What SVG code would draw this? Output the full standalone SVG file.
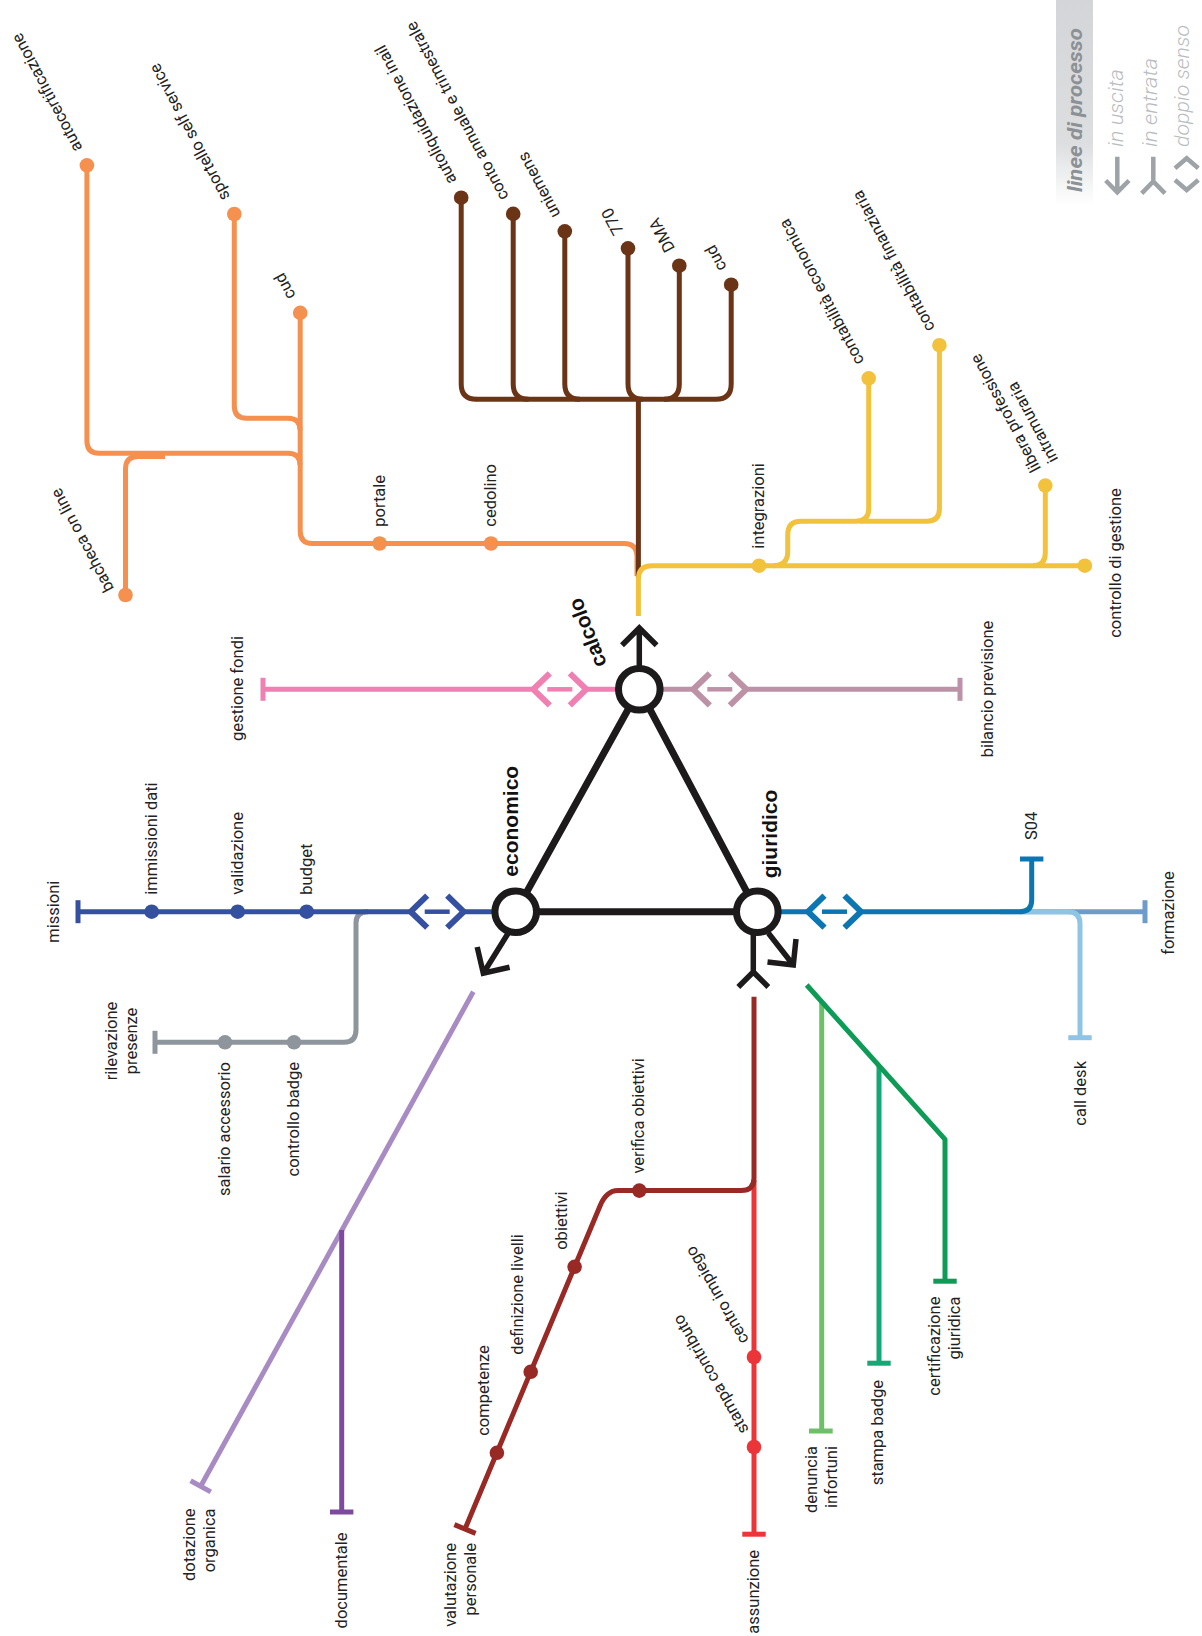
<svg xmlns="http://www.w3.org/2000/svg" width="1202" height="1636" viewBox="0 0 1202 1636">
<style>
.ln{fill:none;stroke-width:5;stroke-linejoin:round;stroke-linecap:butt}
.t{fill:none;stroke-width:5}
.or{stroke:#f5904f}.br{stroke:#6b3416}.ye{stroke:#f2c23c}.pk{stroke:#f07fb2}.mv{stroke:#bd91a6}
.bl{stroke:#3550a0}.gy{stroke:#8f959c}.te{stroke:#0b76b1}.sb{stroke:#6d9cca}.lb{stroke:#8ec5e4}
.lv{stroke:#a98bc4}.pu{stroke:#7d4a9e}.dr{stroke:#982924}.rd{stroke:#ec3539}
.lg{stroke:#6ec068}.tg{stroke:#14a877}.dg{stroke:#0d9b56}
.dor{fill:#f5904f}.dbr{fill:#6b3416}.dye{fill:#f2c23c}.dbl{fill:#3550a0}.dgy{fill:#8f959c}.ddr{fill:#982924}.drd{fill:#ec3539}
.blk{fill:none;stroke:#1c1a1b;stroke-width:7}
.arr{fill:none;stroke:#1c1a1b;stroke-width:5.5;stroke-linejoin:miter}
.node{fill:#fff;stroke:#1c1a1b;stroke-width:7}
.lbl{font-family:Roboto,"Liberation Sans",sans-serif;font-size:16.5px;fill:#222}
.bold{font-family:"Liberation Sans",Arial,sans-serif;font-weight:bold;font-size:21px;fill:#111}
.lgt{font-family:Roboto,"Liberation Sans",sans-serif;font-style:italic;font-size:20px}
.ico{fill:none;stroke:#9ea3a8;stroke-width:4.5}
</style>
<defs>
<linearGradient id="lgbg" x1="0" y1="0" x2="0" y2="1">
<stop offset="0" stop-color="#d3d5d8"/>
<stop offset="0.7" stop-color="#dcdee0"/>
<stop offset="1" stop-color="#ffffff"/>
</linearGradient>
<g id="dbl">
<path d="M16.5,-16 L0,0 L16.5,16 M36.5,-16 L53,0 L36.5,16" stroke-width="6" fill="none" stroke-linejoin="miter"/>
<path d="M14,0 H39" stroke-width="4.5" fill="none"/>
</g>
</defs>
<rect width="1202" height="1636" fill="#fff"/>

<g id="legend">
<rect x="1056" y="0" width="37" height="205" fill="url(#lgbg)"/>
<text class="lgt" transform="translate(1081.7,192) rotate(-90)" font-weight="bold" fill="#8c9196" textLength="164" lengthAdjust="spacingAndGlyphs">linee di processo</text>
<text class="lgt" transform="translate(1123,147) rotate(-90)" font-weight="300" fill="#b8bcc0" textLength="78" lengthAdjust="spacingAndGlyphs">in uscita</text>
<text class="lgt" transform="translate(1157,147) rotate(-90)" font-weight="300" fill="#b8bcc0" textLength="89" lengthAdjust="spacingAndGlyphs">in entrata</text>
<text class="lgt" transform="translate(1189,147) rotate(-90)" font-weight="300" fill="#b8bcc0" textLength="122" lengthAdjust="spacingAndGlyphs">doppio senso</text>
<path class="ico" d="M1117.3,156.7 V192 M1105.7,180.5 L1117.3,192.3 L1129,180.5"/>
<path class="ico" d="M1153.3,156.7 V181.5 M1141.7,193.3 L1153.3,181.5 L1165,193.3"/>
<path class="ico" d="M1175,168.3 L1186.7,158.3 L1198.3,168.3 M1175,180 L1186.7,190 L1198.3,180"/>
</g>

<g id="connectors">
<!-- orange -->
<path class="ln or" d="M86.9,165.3 V441 Q86.9,453.3 99,453.3 H288 Q300,453.3 300,465"/>
<path class="ln or" d="M234.3,214 V406 Q234.3,418.3 246.5,418.3 H288 Q300,418.3 300,430"/>
<path class="ln or" d="M125.5,595 V469 Q125.5,456.5 138,456.5 H165"/>
<path class="ln or" d="M300.2,312.8 V531 Q300.2,543.5 312.5,543.5 H624 Q637,543.5 637,557 V576"/>
<!-- brown -->
<path class="ln br" d="M476,399.3 H716"/>
<path class="ln br" d="M461.2,197.7 V384 Q461.2,399.3 476.5,399.3"/>
<path class="ln br" d="M513.2,213.9 V384 Q513.2,399.3 528.5,399.3"/>
<path class="ln br" d="M564.8,231.3 V384 Q564.8,399.3 580,399.3"/>
<path class="ln br" d="M628,248.3 V384 Q628,399.3 643,399.3"/>
<path class="ln br" d="M679.3,265.7 V384 Q679.3,399.3 664,399.3"/>
<path class="ln br" d="M731.2,284.7 V384 Q731.2,399.3 716,399.3"/>
<path class="ln br" d="M638.4,399.3 V578"/>
<!-- yellow -->
<path class="ln ye" d="M638.4,616 V579 Q638.4,565.7 652,565.7 H1084.8"/>
<path class="ln ye" d="M773,565.7 Q787.7,565.7 787.7,552 V535 Q787.7,521.2 801,521.2 H856 Q868.7,521.2 868.7,509 V378.4"/>
<path class="ln ye" d="M939.4,345.2 V509 Q939.4,521.2 927,521.2 H860"/>
<path class="ln ye" d="M1045.3,485.6 V553 Q1045.3,565.7 1033,565.7"/>
<!-- pink / mauve -->
<path class="ln pk" d="M263,689.3 H533.3 M586,689.3 H620"/>
<path class="t pk" d="M263,677.8 V700.8"/>
<use href="#dbl" class="pk" transform="translate(533.3,689.3)"/>
<path class="ln mv" d="M658,689.3 H693.3 M746.3,689.3 H960"/>
<path class="t mv" d="M960,677.8 V700.8"/>
<use href="#dbl" class="mv" transform="translate(693.3,689.3)"/>
<!-- gray -->
<path class="ln gy" d="M368,911.7 Q356,911.7 356,923 V1030 Q356,1042.3 344,1042.3 H155"/>
<path class="t gy" d="M155,1030.8 V1053.8"/>
<!-- blue -->
<path class="ln bl" d="M78,911.7 H410.7 M463.7,911.7 H498"/>
<path class="t bl" d="M78,900.2 V923.2"/>
<use href="#dbl" class="bl" transform="translate(410.7,911.7)"/>
<!-- giuridico right -->
<path class="ln sb" d="M1020,911.7 H1145"/>
<path class="t sb" d="M1145,900.2 V923.2"/>
<path class="ln lb" d="M1000,911.7 H1068 Q1080,911.7 1080,924 V1037.7"/>
<path class="t lb" d="M1068.3,1037.7 H1091.7"/>
<path class="ln te" d="M776,911.7 H808 M861,911.7 H1020 Q1031.7,911.7 1031.7,900 V859"/>
<path class="t te" d="M1020,859 H1043.4"/>
<use href="#dbl" class="te" transform="translate(808,911.7)"/>
<!-- lavender / purple -->
<path class="ln lv" d="M473.3,991.7 L200.7,1486.3"/>
<path class="t lv" d="M190.6,1480.8 L210.8,1491.9"/>
<path class="ln pu" d="M341.7,1230 V1512"/>
<path class="t pu" d="M330,1512 H353.4"/>
<!-- reds -->
<path class="ln rd" d="M754,1180 V1534.2"/>
<path class="t rd" d="M742.3,1534.2 H765.7"/>
<path class="ln dr" d="M754,996.7 V1178 Q754,1190.6 741,1190.6 H618 Q606.4,1190.6 600,1206 L465,1529"/>
<path class="t dr" d="M454.4,1524.6 L475.6,1533.4"/>
<!-- greens -->
<path class="ln lg" d="M821.7,1001.7 V1431"/>
<path class="t lg" d="M809,1431 H832.7"/>
<path class="ln tg" d="M879,1065.7 V1363.2"/>
<path class="t tg" d="M867.3,1363.2 H890.7"/>
<path class="ln dg" d="M806.7,985 L945,1139.3 V1281.2"/>
<path class="t dg" d="M933.3,1281.2 H956.7"/>
</g>

<g id="stations">
<circle class="dor" cx="86.9" cy="165.3" r="7.3"/>
<circle class="dor" cx="234.3" cy="214" r="7.3"/>
<circle class="dor" cx="300.2" cy="312.8" r="7.3"/>
<circle class="dor" cx="125.5" cy="595" r="7.3"/>
<circle class="dor" cx="379.6" cy="543.5" r="7.3"/>
<circle class="dor" cx="491" cy="543.5" r="7.3"/>
<circle class="dbr" cx="461.2" cy="197.7" r="7.3"/>
<circle class="dbr" cx="513.2" cy="213.9" r="7.3"/>
<circle class="dbr" cx="564.8" cy="231.3" r="7.3"/>
<circle class="dbr" cx="628" cy="248.3" r="7.3"/>
<circle class="dbr" cx="679.3" cy="265.7" r="7.3"/>
<circle class="dbr" cx="731.2" cy="284.7" r="7.3"/>
<circle class="dye" cx="759" cy="565.7" r="7.3"/>
<circle class="dye" cx="868.7" cy="378.4" r="7.3"/>
<circle class="dye" cx="939.4" cy="345.2" r="7.3"/>
<circle class="dye" cx="1045.3" cy="485.6" r="7.3"/>
<circle class="dye" cx="1084.8" cy="565.7" r="7.3"/>
<circle class="dbl" cx="151.7" cy="911.7" r="7.3"/>
<circle class="dbl" cx="237.7" cy="911.7" r="7.3"/>
<circle class="dbl" cx="306.7" cy="911.7" r="7.3"/>
<circle class="dgy" cx="225" cy="1042.3" r="7.3"/>
<circle class="dgy" cx="294" cy="1042.3" r="7.3"/>
<circle class="ddr" cx="639.3" cy="1190.6" r="7.3"/>
<circle class="ddr" cx="574.6" cy="1266.8" r="7.3"/>
<circle class="ddr" cx="530.7" cy="1371.8" r="7.3"/>
<circle class="ddr" cx="496.9" cy="1452.8" r="7.3"/>
<circle class="drd" cx="754" cy="1357" r="7.3"/>
<circle class="drd" cx="754" cy="1447" r="7.3"/>
</g>

<g id="triangle">
<path class="blk" d="M639.3,689.3 L515.7,911.7 H757.3 Z"/>
<path class="arr" d="M639.3,668 V628 M622,645.3 L639.3,628 L656.6,645.3"/>
<path class="arr" d="M508.3,933 L483.3,973.3 M477.2,947 L483.3,973.3 L509.6,967.2"/>
<path class="arr" d="M768.3,933 L793.3,965 M767.5,962 L793.3,965 L796,939"/>
<path class="arr" d="M753.3,933 V972 M738.3,987 L753.3,972 L768.3,987"/>
</g>
<g id="node-calcolo">
<circle class="node" cx="639.3" cy="689.3" r="20.8"/>
<text class="bold" transform="translate(607,664) rotate(249)">calcolo</text>
</g>
<g id="node-economico">
<circle class="node" cx="515.7" cy="911.7" r="20.8"/>
<text class="bold" transform="translate(517.5,876.7) rotate(-90)">economico</text>
</g>
<g id="node-giuridico">
<circle class="node" cx="757.3" cy="911.7" r="20.8"/>
<text class="bold" transform="translate(776.5,878.3) rotate(-90)">giuridico</text>
</g>

<g id="labels-slanted" class="lbl">
<text transform="translate(86.9,165.3) rotate(242)" x="17" y="4.4">autocertificazione</text>
<text transform="translate(234.3,214) rotate(242)" x="17" y="4.4">sportello self service</text>
<text transform="translate(300.2,312.8) rotate(242)" x="17" y="4.4">cud</text>
<text transform="translate(125.5,595) rotate(242)" x="11" y="-7">bacheca on line</text>
<text transform="translate(461.2,197.7) rotate(242)" x="17" y="4.4">autoliquidazione inail</text>
<text transform="translate(513.2,213.9) rotate(242)" x="17" y="4.4">conto annuale e trimestrale</text>
<text transform="translate(564.8,231.3) rotate(242)" x="17" y="4.4">uniemens</text>
<text transform="translate(628,248.3) rotate(242)" x="17" y="4.4">770</text>
<text transform="translate(679.3,265.7) rotate(242)" x="17" y="4.4">DMA</text>
<text transform="translate(731.2,284.7) rotate(242)" x="17" y="4.4">cud</text>
<text transform="translate(868.7,378.4) rotate(242)" x="17" y="4.4">contabilità economica</text>
<text transform="translate(939.4,345.2) rotate(242)" x="17" y="4.4">contabilità finanziaria</text>
<text transform="translate(1045.3,485.6) rotate(242)" x="17" y="4.4">libera professione</text>
<text transform="translate(1045.3,485.6) rotate(242)" x="17" y="24">intramuraria</text>
<text transform="translate(754,1357) rotate(240)" x="17" y="4.4">centro impiego</text>
<text transform="translate(754,1447) rotate(240)" x="17" y="4.4">stampa contributo</text>
</g>

<g id="labels-vertical" class="lbl">
<text transform="translate(384.6,526.7) rotate(-90)">portale</text>
<text transform="translate(496,526.7) rotate(-90)">cedolino</text>
<text transform="translate(764,548.7) rotate(-90)">integrazioni</text>
<text transform="translate(1121,563) rotate(-90)" text-anchor="middle">controllo di gestione</text>
<text transform="translate(243.3,688.5) rotate(-90)" text-anchor="middle">gestione fondi</text>
<text transform="translate(993.3,689) rotate(-90)" text-anchor="middle">bilancio previsione</text>
<text transform="translate(59.3,911.7) rotate(-90)" text-anchor="middle">missioni</text>
<text transform="translate(156.7,894.7) rotate(-90)">immissioni dati</text>
<text transform="translate(242.7,894.7) rotate(-90)">validazione</text>
<text transform="translate(311.7,894.7) rotate(-90)">budget</text>
<text transform="translate(117.3,1041) rotate(-90)" text-anchor="middle">rilevazione</text>
<text transform="translate(136.7,1041) rotate(-90)" text-anchor="middle">presenze</text>
<text transform="translate(229.5,1062) rotate(-90)" text-anchor="end">salario accessorio</text>
<text transform="translate(298.5,1062) rotate(-90)" text-anchor="end">controllo badge</text>
<text transform="translate(1037,840) rotate(-90)">S04</text>
<text transform="translate(1174.3,913) rotate(-90)" text-anchor="middle">formazione</text>
<text transform="translate(1085.5,1061) rotate(-90)" text-anchor="end">call desk</text>
<text transform="translate(644.3,1173.6) rotate(-90)">verifica obiettivi</text>
<text transform="translate(567.1,1249.8) rotate(-90)">obiettivi</text>
<text transform="translate(523.2,1354.8) rotate(-90)">definizione livelli</text>
<text transform="translate(489.4,1435.8) rotate(-90)">competenze</text>
<text transform="translate(195,1508.5) rotate(-90)" text-anchor="end">dotazione</text>
<text transform="translate(214.5,1508.5) rotate(-90)" text-anchor="end">organica</text>
<text transform="translate(346.7,1532.5) rotate(-90)" text-anchor="end">documentale</text>
<text transform="translate(456,1543) rotate(-90)" text-anchor="end">valutazione</text>
<text transform="translate(475.5,1543) rotate(-90)" text-anchor="end">personale</text>
<text transform="translate(758.5,1550) rotate(-90)" text-anchor="end">assunzione</text>
<text transform="translate(816.7,1446) rotate(-90)" text-anchor="end">denuncia</text>
<text transform="translate(836.5,1446) rotate(-90)" text-anchor="end">infortuni</text>
<text transform="translate(883,1380) rotate(-90)" text-anchor="end">stampa badge</text>
<text transform="translate(940,1296.6) rotate(-90)" text-anchor="end">certificazione</text>
<text transform="translate(959.5,1296.6) rotate(-90)" text-anchor="end">giuridica</text>
</g>
</svg>
